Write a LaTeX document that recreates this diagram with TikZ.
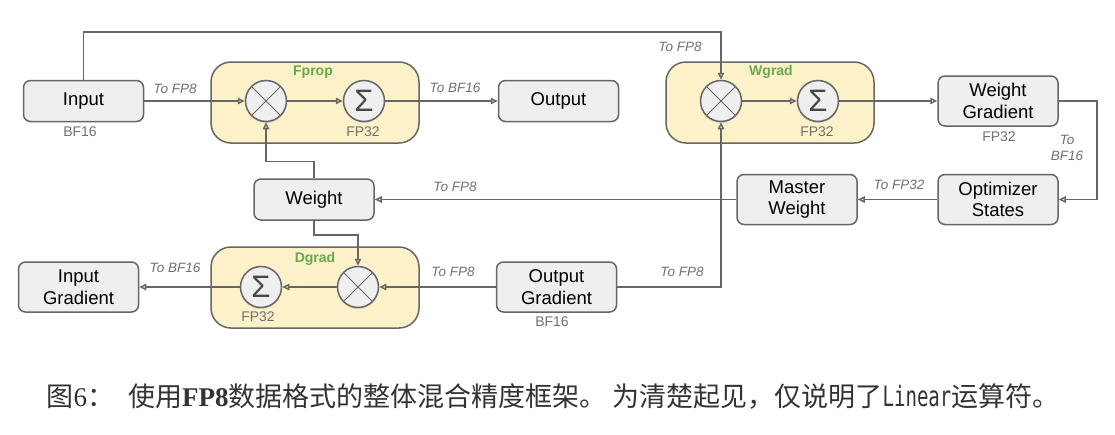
\documentclass[tikz,border=0pt]{standalone}
\usepackage{fontspec}
\setmainfont{Liberation Sans}
\newfontfamily\cjkfont{Noto Sans CJK SC}
\newfontfamily\capserif{Liberation Serif}
\newfontfamily\capmono[FakeStretch=0.68]{DejaVu Sans Mono}
\usetikzlibrary{arrows.meta,shadows}

\definecolor{linegray}{HTML}{666666}
\definecolor{boxfill}{HTML}{EFEFEF}
\definecolor{opfill}{HTML}{FDF1C9}
\definecolor{opgreen}{HTML}{6AA84F}
\definecolor{notegray}{HTML}{707070}
\definecolor{capgray}{HTML}{333333}

\begin{document}
\begin{tikzpicture}[x=1pt,y=-1pt,
  blk/.style={draw=linegray,fill=boxfill,rounded corners=7pt,line width=1.5pt,
    minimum width=120pt,minimum height=41pt,inner sep=0pt,align=center,
    font=\fontsize{18.5}{21.5}\selectfont},
  grp/.style={draw=linegray,fill=opfill,rounded corners=20pt,line width=1.5pt,
    minimum width=208pt,minimum height=81pt,inner sep=0pt},
  grplabel/.style={font=\fontsize{14}{16}\selectfont\bfseries,text=opgreen},
  op/.style={circle,draw=linegray,fill=boxfill,line width=1.5pt,minimum size=41pt,
    inner sep=0pt,drop shadow={shadow xshift=0pt,shadow yshift=-1.5pt,opacity=0.25}},
  mulop/.style={op,path picture={
    \draw[linegray,line width=1pt] (path picture bounding box.north west) -- (path picture bounding box.south east);
    \draw[linegray,line width=1pt] (path picture bounding box.south west) -- (path picture bounding box.north east);}},
  sumop/.style={op,font=\fontsize{31}{31}\selectfont,text=black!72},
  conn/.style={draw=linegray,line width=1.5pt,-{Triangle[open,length=7pt,width=6.5pt]}},
  note/.style={font=\fontsize{13.5}{15.5}\selectfont\itshape,text=notegray,align=center},
  prec/.style={font=\fontsize{14}{16}\selectfont,text=notegray}]
\useasboundingbox (0,0) rectangle (1115,434);

% operator groups
\node[grp] (fprop) at (315,102.5) {};
\node[grp] (wgradgrp) at (770,102.5) {};
\node[grp] (dgradgrp) at (315,287.5) {};
\node[grplabel] (fproplabel) at (313,72) {Fprop};
\node[grplabel] (wgradlabel) at (771,72) {Wgrad};
\node[grplabel] (dgradlabel) at (315,259) {Dgrad};

% operators
\node[mulop] (fmul) at (266,101) {};
\node[sumop] (fsum) at (364,101) {Σ};
\node[mulop] (wmul) at (721,101) {};
\node[sumop] (wsum) at (818,101) {Σ};
\node[sumop] (dsum) at (261,287) {Σ};
\node[mulop] (dmul) at (358,287) {};

% tensors
\node[blk] (input) at (83.5,101) {Input};
\node[blk] (output) at (558.5,101) {Output};
\node[blk] (weight) at (314,199.5) {Weight};
\node[blk,minimum height=50pt] (ingrad) at (78.5,287) {Input\\Gradient};
\node[blk,minimum height=50pt] (outgrad) at (556.5,287) {Output\\Gradient};
\node[blk,minimum height=50pt] (wgrad) at (998,101) {Weight\\Gradient};
\node[blk,minimum height=50pt] (optim) at (998,199.5) {Optimizer\\States};
\node[blk,minimum height=50pt] (master) at (797,199.5) {Master\\Weight};

% precisions
\node[prec] (inprec) at (80,132) {BF16};
\node[prec] (fsumprec) at (363,132) {FP32};
\node[prec] (wsumprec) at (817,132) {FP32};
\node[prec] (wgradprec) at (999,137) {FP32};
\node[prec] (dsumprec) at (258,317) {FP32};
\node[prec] (outgradprec) at (552,322) {BF16};

% connectors
\coordinate (topy) at (0,32);
\draw[conn] (input.east) -- (fmul.west);
\draw[conn] (fmul.east) -- (fsum.west);
\draw[conn] (fsum.east) -- (output.west);
\draw[conn] (input.north) -- (input.north |- topy) -| (wmul.north);
\draw[conn] (wmul.east) -- (wsum.west);
\draw[conn] (wsum.east) -- (wgrad.west);
\draw[conn] (wgrad.east) -- ++(38,0) |- (optim.east);
\draw[conn] (optim.west) -- (master.east);
\draw[conn] (master.west) -- (weight.east);
\draw[conn] (weight.north) -- ++(0,-17) -| (fmul.south);
\draw[conn] (weight.south) -- ++(0,14) -| (dmul.north);
\draw[conn] (outgrad.west) -- (dmul.east);
\draw[conn] (dmul.west) -- (dsum.east);
\draw[conn] (dsum.west) -- (ingrad.east);
\draw[conn] (outgrad.east) -| (wmul.south);

% casts
\node[note] (c1) at (175,89) {To FP8};
\node[note] (c2) at (455,88) {To BF16};
\node[note] (c3) at (680,47) {To FP8};
\node[note] (c4) at (455,187) {To FP8};
\node[note] (c5) at (899,185) {To FP32};
\node[note] (c6) at (1067,148) {To\\BF16};
\node[note] (c7) at (453,272) {To FP8};
\node[note] (c8) at (682,272) {To FP8};
\node[note] (c9) at (175,268) {To BF16};

% caption
\node[text=capgray,inner sep=0pt] (caption) at (553,397) {\fontsize{27}{31}\selectfont
  \cjkfont 图{\capserif 6}：\hspace{14pt}使用{\capserif\bfseries FP8}数据格式的整体混合精度框架。 为清楚起见，仅说明了{\capmono\fontsize{28}{31}\selectfont Linear}运算符。};
\end{tikzpicture}
\end{document}
